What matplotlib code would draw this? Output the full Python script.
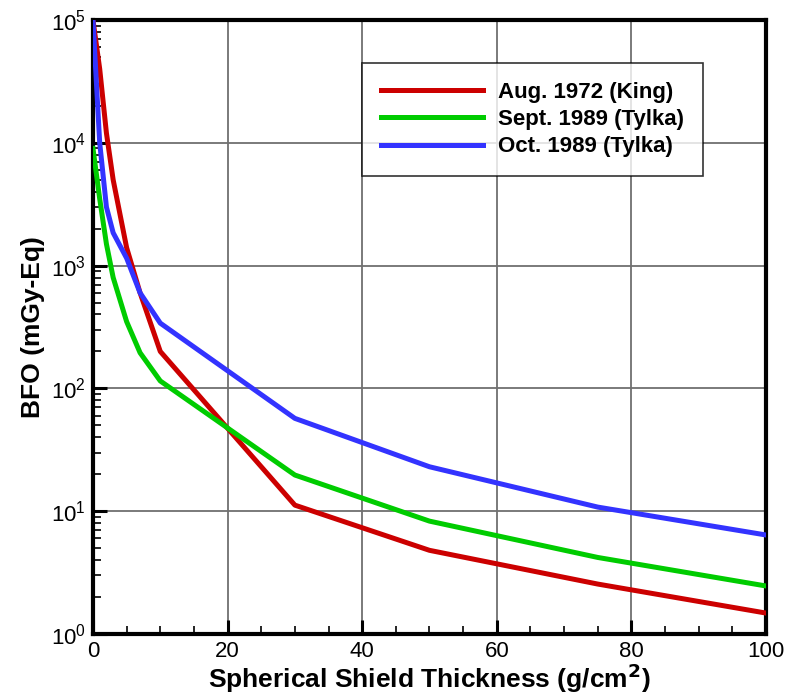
import matplotlib.pyplot as plt
import numpy as np
from matplotlib.ticker import MultipleLocator, LogLocator, NullFormatter

plt.rcParams['font.family'] = ['Liberation Sans', 'DejaVu Sans']

# BFO dose vs spherical shield thickness
x_king = [0, 1, 2, 3, 5, 7, 10, 30, 50, 75, 100]
bfo_king = [1.0e5, 4.0e4, 1.2e4, 5000, 1400, 600, 200, 11.2, 4.8, 2.55, 1.48]

x_sept = [0, 1, 2, 3, 5, 7, 10, 30, 50, 75, 100]
bfo_sept = [9000, 3500, 1500, 800, 350, 195, 115, 19.7, 8.3, 4.2, 2.46]

x_oct = [0, 1, 2, 3, 5, 7, 10, 30, 50, 75, 100]
bfo_oct = [1.0e5, 1.0e4, 3000, 1850, 1150, 600, 340, 57, 23, 10.8, 6.4]

labels = ['Aug. 1972 (King)', 'Sept. 1989 (Tylka)', 'Oct. 1989 (Tylka)']
colors = ['#cc0000', '#00cc00', '#3333ff']

fig = plt.figure(figsize=(7.98, 6.95), dpi=100)
ax = fig.add_axes([0.1165, 0.0878, 0.8434, 0.8834])

for xs, ys, lab, c in zip([x_king, x_sept, x_oct], [bfo_king, bfo_sept, bfo_oct], labels, colors):
    ax.plot(xs, ys, color=c, lw=3.6, label=lab, solid_joinstyle='round', zorder=3)

ax.set_yscale('log')
ax.set_xlim(0, 100)
ax.set_ylim(1, 1e5)

ax.xaxis.set_major_locator(MultipleLocator(20))
ax.xaxis.set_minor_locator(MultipleLocator(5))
ax.yaxis.set_major_locator(LogLocator(base=10, numticks=10))
ax.yaxis.set_minor_locator(LogLocator(base=10, subs=np.arange(2, 10), numticks=10))
ax.yaxis.set_minor_formatter(NullFormatter())

ax.grid(True, which='major', color='#707070', lw=1.3, zorder=1)
ax.tick_params(which='major', direction='in', length=10, width=2.2, labelsize=16, pad=5)
ax.tick_params(which='minor', direction='in', length=6, width=1.2)
for s in ax.spines.values():
    s.set_linewidth(3)

ax.set_xlabel('Spherical Shield Thickness (g/cm$^{\\mathbf{2}}$)', fontsize=19, fontweight='bold', labelpad=0)
ax.set_ylabel('BFO (mGy-Eq)', fontsize=19, fontweight='bold', labelpad=4)

leg = ax.legend(loc='upper left', bbox_to_anchor=(0.40, 0.93), fontsize=16,
                handlelength=4.6, frameon=True, fancybox=False, borderpad=0.85,
                labelspacing=0.28, handletextpad=0.65, borderaxespad=0)
for t in leg.get_texts():
    t.set_fontweight('bold')
leg.get_frame().set_edgecolor('black')
leg.get_frame().set_linewidth(1.2)

fig.savefig('out.png', dpi=100)
